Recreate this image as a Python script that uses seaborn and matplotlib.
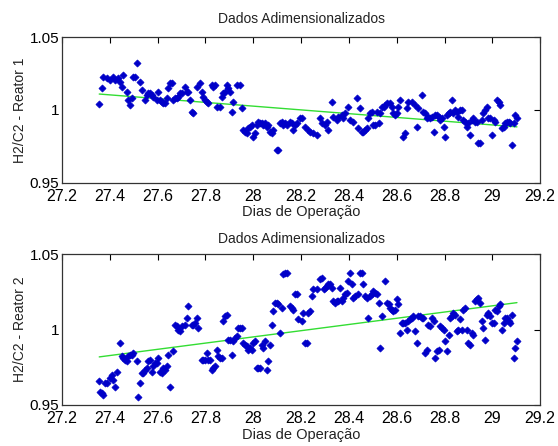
import numpy as np
import pandas as pd
import matplotlib
matplotlib.use("Agg")
import matplotlib.pyplot as plt
import seaborn as sns

sns.set_theme(style="white")
plt.rcParams['font.family'] = ['Liberation Sans', 'DejaVu Sans']

# ---------------- data ----------------
days_r1 = [27.356, 27.366, 27.373, 27.387, 27.401, 27.415, 27.422, 27.436, 27.443, 27.450,
           27.457, 27.471, 27.478, 27.485, 27.491, 27.498, 27.512, 27.505, 27.526, 27.533,
           27.547, 27.554, 27.561, 27.568, 27.575, 27.582, 27.596, 27.603, 27.610, 27.617,
           27.624, 27.631, 27.638, 27.645, 27.652, 27.659, 27.666, 27.673, 27.680, 27.687,
           27.694, 27.701, 27.715, 27.722, 27.729, 27.736, 27.743, 27.750, 27.763, 27.777,
           27.784, 27.791, 27.798, 27.805, 27.812, 27.826, 27.833, 27.840, 27.847, 27.861,
           27.868, 27.875, 27.882, 27.889, 27.896, 27.903, 27.910, 27.917, 27.931, 27.945,
           27.952, 27.959, 27.966, 27.973, 27.980, 27.987, 27.994, 28.001, 28.008, 28.015,
           28.021, 28.028, 28.035, 28.042, 28.049, 28.056, 28.063, 28.070, 28.077, 28.084,
           28.098, 28.105, 28.112, 28.119, 28.126, 28.133, 28.140, 28.154, 28.161, 28.168,
           28.175, 28.182, 28.196, 28.203, 28.217, 28.231, 28.238, 28.252, 28.266, 28.280,
           28.287, 28.301, 28.308, 28.314, 28.328, 28.335, 28.349, 28.356, 28.370, 28.377,
           28.384, 28.398, 28.405, 28.419, 28.433, 28.440, 28.447, 28.454, 28.461, 28.468,
           28.475, 28.482, 28.489, 28.496, 28.503, 28.510, 28.517, 28.524, 28.531, 28.538,
           28.545, 28.552, 28.559, 28.572, 28.579, 28.586, 28.593, 28.600, 28.607, 28.614,
           28.628, 28.635, 28.642, 28.649, 28.663, 28.677, 28.684, 28.691, 28.705, 28.712,
           28.719, 28.726, 28.733, 28.740, 28.747, 28.754, 28.761, 28.768, 28.775, 28.782,
           28.789, 28.796, 28.803, 28.810, 28.817, 28.823, 28.830, 28.837, 28.844, 28.851,
           28.858, 28.865, 28.872, 28.879, 28.886, 28.893, 28.900, 28.907, 28.914, 28.921,
           28.928, 28.935, 28.942, 28.949, 28.956, 28.963, 28.970, 28.977, 28.984, 28.991,
           28.998, 29.005, 29.012, 29.019, 29.026, 29.033, 29.040, 29.047, 29.054, 29.061,
           29.068, 29.075, 29.082, 29.089, 29.096, 29.103]
h2c2_r1 = [1.0041, 1.0148, 1.0228, 1.0217, 1.0205, 1.0228, 1.0205, 1.0217, 1.0194, 1.0160,
           1.0240, 1.0126, 1.0068, 1.0034, 1.0080, 1.0228, 1.0320, 1.0228, 1.0194, 1.0137,
           1.0068, 1.0103, 1.0114, 1.0114, 1.0103, 1.0091, 1.0068, 1.0126, 1.0068, 1.0057,
           1.0046, 1.0046, 1.0080, 1.0148, 1.0183, 1.0183, 1.0068, 1.0080, 1.0080, 1.0091,
           1.0114, 1.0114, 1.0160, 1.0126, 1.0126, 1.0068, 0.9989, 0.9977, 1.0160, 1.0183,
           1.0126, 1.0091, 1.0068, 1.0057, 1.0046, 1.0171, 1.0160, 1.0171, 1.0023, 1.0023,
           1.0091, 1.0114, 1.0126, 1.0171, 1.0148, 1.0126, 0.9989, 1.0057, 1.0171, 1.0171,
           1.0011, 0.9863, 0.9852, 0.9840, 0.9874, 0.9886, 0.9897, 0.9817, 0.9840, 0.9897,
           0.9920, 0.9909, 0.9909, 0.9897, 0.9909, 0.9886, 0.9897, 0.9852, 0.9840, 0.9863,
           0.9726, 0.9726, 0.9909, 0.9920, 0.9897, 0.9909, 0.9897, 0.9920, 0.9909, 0.9863,
           0.9897, 0.9909, 0.9943, 0.9943, 0.9886, 0.9863, 0.9852, 0.9840, 0.9829, 0.9943,
           0.9909, 0.9897, 0.9920, 0.9863, 1.0057, 0.9954, 0.9932, 0.9954, 0.9966, 0.9943,
           0.9977, 1.0023, 0.9932, 0.9920, 1.0080, 0.9874, 1.0011, 0.9852, 0.9852, 0.9863,
           0.9874, 0.9943, 0.9977, 0.9989, 0.9897, 0.9897, 0.9989, 0.9909, 0.9977, 1.0023,
           1.0023, 1.0034, 1.0046, 1.0046, 1.0023, 0.9977, 0.9966, 0.9977, 1.0023, 1.0068,
           0.9817, 0.9840, 1.0011, 1.0057, 1.0057, 1.0034, 0.9886, 1.0011, 1.0103, 0.9989,
           0.9977, 0.9943, 0.9954, 0.9943, 0.9954, 0.9852, 0.9966, 0.9966, 0.9954, 0.9932,
           0.9943, 0.9886, 0.9817, 0.9966, 0.9977, 0.9989, 1.0068, 0.9977, 1.0000, 0.9989,
           0.9954, 1.0000, 1.0000, 0.9932, 0.9920, 0.9886, 0.9909, 0.9829, 0.9932, 0.9943,
           0.9920, 0.9920, 0.9772, 0.9772, 0.9932, 0.9977, 1.0000, 1.0023, 0.9943, 0.9943,
           0.9829, 0.9932, 0.9920, 1.0068, 1.0057, 1.0034, 0.9874, 0.9886, 0.9909, 0.9920,
           0.9920, 0.9909, 0.9760, 0.9909, 0.9966, 0.9943]

days_r2 = [27.356, 27.359, 27.366, 27.373, 27.380, 27.387, 27.401, 27.408, 27.415, 27.422,
           27.429, 27.443, 27.450, 27.457, 27.464, 27.471, 27.478, 27.485, 27.491, 27.498,
           27.512, 27.519, 27.526, 27.533, 27.540, 27.547, 27.554, 27.561, 27.568, 27.575,
           27.582, 27.589, 27.596, 27.603, 27.610, 27.617, 27.624, 27.631, 27.638, 27.645,
           27.652, 27.666, 27.673, 27.680, 27.687, 27.694, 27.701, 27.715, 27.722, 27.729,
           27.743, 27.750, 27.757, 27.763, 27.770, 27.784, 27.791, 27.798, 27.805, 27.812,
           27.819, 27.826, 27.833, 27.840, 27.847, 27.854, 27.861, 27.868, 27.875, 27.882,
           27.889, 27.896, 27.903, 27.910, 27.917, 27.924, 27.931, 27.938, 27.945, 27.952,
           27.959, 27.966, 27.973, 27.980, 27.987, 27.994, 28.001, 28.008, 28.015, 28.021,
           28.028, 28.035, 28.042, 28.049, 28.056, 28.063, 28.070, 28.077, 28.084, 28.091,
           28.098, 28.105, 28.112, 28.119, 28.126, 28.133, 28.140, 28.154, 28.161, 28.168,
           28.175, 28.182, 28.189,
           28.203, 28.210, 28.217, 28.224, 28.231, 28.238, 28.245, 28.252, 28.266, 28.280,
           28.287, 28.294, 28.301, 28.308, 28.314, 28.321, 28.328, 28.335, 28.342, 28.349,
           28.356, 28.363, 28.370, 28.377, 28.384, 28.391, 28.398, 28.405, 28.412, 28.419,
           28.426, 28.440, 28.447, 28.454, 28.461, 28.468, 28.475, 28.482, 28.489, 28.496,
           28.503, 28.510, 28.517, 28.524, 28.531, 28.538, 28.552, 28.559, 28.566, 28.572,
           28.579, 28.586, 28.593, 28.600, 28.607, 28.614, 28.621, 28.628, 28.635, 28.642,
           28.649, 28.656, 28.663, 28.670, 28.677, 28.684, 28.691, 28.698, 28.705, 28.712,
           28.719, 28.726, 28.733, 28.740, 28.747, 28.754, 28.761, 28.768, 28.775, 28.782,
           28.789, 28.796, 28.803, 28.810, 28.817, 28.823, 28.830, 28.837, 28.844, 28.851,
           28.858, 28.865, 28.872, 28.879, 28.886, 28.893, 28.900, 28.907, 28.914, 28.921,
           28.928, 28.935, 28.942, 28.949, 28.956, 28.963, 28.970, 28.977, 28.984, 28.991,
           28.998, 29.005, 29.012, 29.019, 29.026, 29.033, 29.040, 29.047, 29.054, 29.061,
           29.068, 29.075, 29.082, 29.089, 29.096, 29.103]
h2c2_r2 = [0.9662, 0.9589, 0.9578, 0.9567, 0.9644, 0.9644, 0.9678, 0.9700, 0.9667, 0.9622,
           0.9722, 0.9911, 0.9822, 0.9811, 0.9800, 0.9789, 0.9822, 0.9833, 0.9833, 0.9844,
           0.9789, 0.9556, 0.9644, 0.9711, 0.9711, 0.9733, 0.9744, 0.9789, 0.9800, 0.9722,
           0.9756, 0.9778, 0.9778, 0.9811, 0.9722, 0.9711, 0.9744, 0.9733, 0.9756, 0.9833,
           0.9622, 0.9856, 1.0033, 1.0022, 1.0000, 0.9989, 1.0022, 1.0033, 1.0078, 1.0156,
           1.0033, 1.0033, 1.0044, 1.0078, 1.0011, 0.9800, 0.9800, 0.9800, 0.9844, 0.9800,
           0.9800, 0.9733, 0.9744, 0.9756, 0.9867, 0.9822, 0.9811, 0.9811, 1.0056, 1.0089,
           1.0100, 0.9933, 0.9933, 0.9833, 0.9922, 0.9944, 0.9956, 1.0011, 1.0011, 1.0011,
           0.9911, 0.9900, 0.9889, 0.9867, 0.9878, 0.9867, 0.9911, 0.9922, 0.9744, 0.9744,
           0.9744, 0.9900, 0.9878, 0.9922, 0.9733, 0.9789, 0.9900, 1.0033, 1.0122, 1.0178,
           1.0178, 1.0167, 0.9978, 1.0144, 1.0367, 1.0378, 1.0378, 1.0156, 1.0144, 1.0133,
           1.0233, 1.0233, 1.0067,
           1.0056, 1.0111, 0.9911, 0.9911, 1.0111, 1.0122, 1.0222, 1.0267, 1.0267, 1.0333,
           1.0344, 1.0267, 1.0278, 1.0289, 1.0300, 1.0300, 1.0278, 1.0189, 1.0178, 1.0189,
           1.0189, 1.0278, 1.0189, 1.0211, 1.0233, 1.0244, 1.0322, 1.0378, 1.0300, 1.0211,
           1.0222, 1.0233, 1.0378, 1.0378, 1.0300, 1.0222, 1.0211, 1.0078, 1.0222, 1.0233,
           1.0256, 1.0244, 1.0233, 1.0178, 0.9878, 1.0089, 1.0322, 1.0178, 1.0167, 1.0144,
           1.0133, 1.0122, 1.0133, 1.0200, 1.0167, 0.9978, 1.0044, 1.0044, 1.0044, 1.0000,
           1.0056, 1.0067, 1.0078, 1.0089, 0.9989, 0.9911, 1.0089, 1.0089, 1.0078, 1.0078,
           0.9844, 0.9867, 1.0033, 1.0022, 1.0078, 1.0056, 0.9811, 0.9856, 0.9867, 1.0022,
           1.0011, 1.0000, 0.9922, 0.9856, 0.9967, 1.0078, 1.0089, 1.0111, 1.0100, 0.9989,
           1.0000, 1.0067, 1.0000, 1.0133, 1.0144, 1.0000, 0.9911, 0.9900, 0.9978, 0.9967,
           1.0189, 1.0200, 1.0211, 1.0178, 1.0056, 1.0011, 0.9933, 1.0100, 1.0111, 1.0089,
           1.0044, 1.0044, 1.0133, 1.0122, 1.0156, 1.0167, 1.0000, 1.0044, 1.0078, 1.0078,
           1.0056, 1.0044, 1.0100, 0.9811, 0.9878, 0.9922]

x_ticks = [27.2, 27.4, 27.6, 27.8, 28.0, 28.2, 28.4, 28.6, 28.8, 29.0, 29.2]
x_tick_labels = ["27.2", "27.4", "27.6", "27.8", "28", "28.2", "28.4", "28.6", "28.8", "29", "29.2"]
y_ticks = [0.95, 1.0, 1.05]
y_tick_labels = ["0.95", "1", "1.05"]

title_text = "Dados Adimensionalizados"
x_label = "Dias de Operação"
y_labels = ["H2/C2 - Reator 1", "H2/C2 - Reator 2"]

n1 = min(len(days_r1), len(h2c2_r1))
n2 = min(len(days_r2), len(h2c2_r2))
df1 = pd.DataFrame({"dias": days_r1[:n1], "h2c2": h2c2_r1[:n1]})
df2 = pd.DataFrame({"dias": days_r2[:n2], "h2c2": h2c2_r2[:n2]})

# ---------------- figure ----------------
fig = plt.figure(figsize=(5.58, 4.46), dpi=100)
fig.patch.set_facecolor("white")
ax1 = fig.add_axes([0.111, 0.590, 0.857, 0.327])
ax2 = fig.add_axes([0.111, 0.092, 0.857, 0.338])

for ax, df, ylab, tpad in [(ax1, df1, y_labels[0], 10), (ax2, df2, y_labels[1], 8)]:
    sns.scatterplot(data=df, x="dias", y="h2c2", ax=ax, marker="D", s=13,
                    color="#0000c8", edgecolor="#0000c8", linewidth=0.5, zorder=3)
    sns.regplot(data=df, x="dias", y="h2c2", ax=ax, scatter=False, ci=None,
                line_kws={"color": "#33dd33", "linewidth": 1.0, "zorder": 2})
    ax.set_xlim(27.2, 29.2)
    ax.set_ylim(0.95, 1.05)
    ax.set_xticks(x_ticks)
    ax.set_xticklabels(x_tick_labels)
    ax.set_yticks(y_ticks)
    ax.set_yticklabels(y_tick_labels)
    ax.tick_params(direction="in", length=4, width=0.8, top=True, right=True,
                   labelsize=11, colors="black", pad=2)
    ax.tick_params(axis="x", labelsize=11.5, pad=4.5)
    for sp in ax.spines.values():
        sp.set_color("#333333")
        sp.set_linewidth(0.9)
        sp.set_visible(True)
    ax.set_facecolor("white")
    ax.set_title(title_text, fontsize=10, color="#222222", pad=tpad)
    ax.set_xlabel(x_label, fontsize=10.5, color="#222222", labelpad=1)
    ax.set_ylabel(ylab, fontsize=10, color="#222222", labelpad=2)

fig.savefig("out.png", dpi=100, facecolor="white")
